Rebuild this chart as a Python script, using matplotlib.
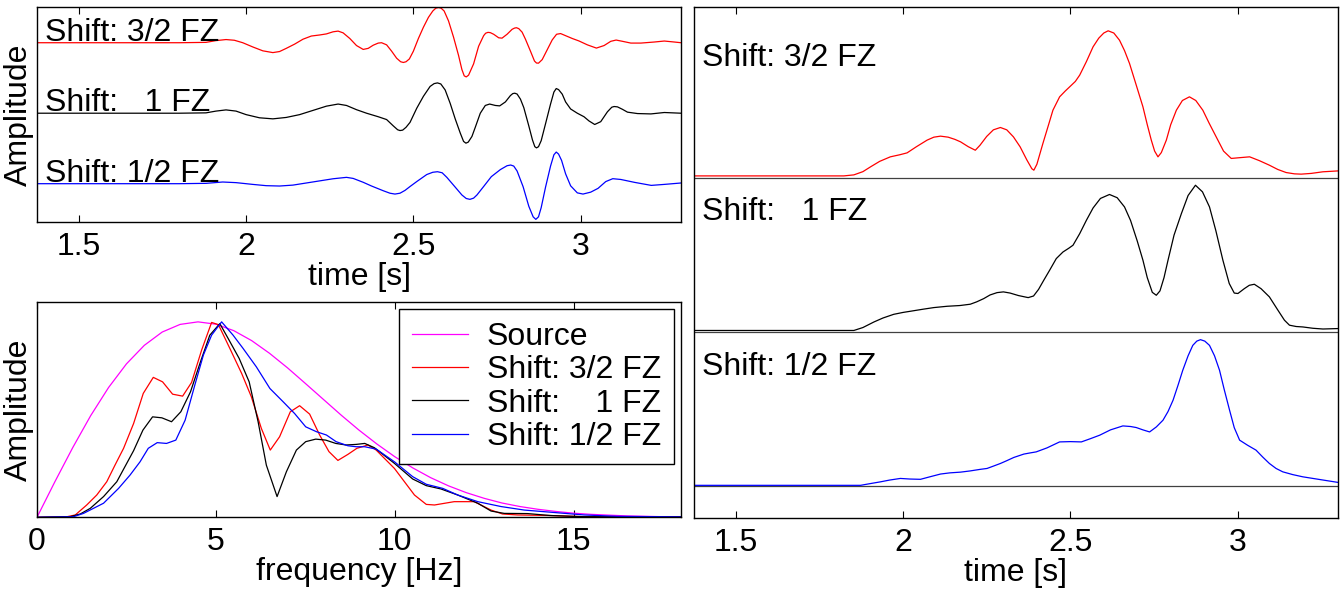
import matplotlib.pyplot as plt

plt.rcParams['font.family'] = ['Liberation Sans', 'DejaVu Sans']
plt.rcParams['font.size'] = 23

# Seismograms (offset traces), amplitude in units of trace spacing
t_red = [1.375, 1.60, 1.80, 1.88, 1.91, 1.94, 1.965, 1.99, 2.02, 2.05, 2.08, 2.10, 2.12, 2.145, 2.17, 2.195,
         2.22, 2.24, 2.26, 2.275, 2.29, 2.31, 2.33, 2.35, 2.365, 2.38, 2.395, 2.405, 2.42, 2.435, 2.45, 2.462,
         2.47, 2.478, 2.488, 2.50, 2.515, 2.53, 2.545, 2.558, 2.567, 2.575, 2.583, 2.592, 2.605, 2.62, 2.635,
         2.645, 2.652, 2.658, 2.665, 2.68, 2.695, 2.71, 2.716, 2.723, 2.73, 2.74, 2.755, 2.765, 2.78, 2.795,
         2.802, 2.808, 2.815, 2.825, 2.835, 2.85, 2.862, 2.868, 2.874, 2.885, 2.90, 2.915, 2.928, 2.94, 2.955,
         2.975, 2.995, 3.02, 3.047, 3.07, 3.09, 3.106, 3.125, 3.15, 3.18, 3.22, 3.25, 3.28, 3.30]
a_red = [0, 0, 0, 0.005, 0.03, 0.045, 0.035, 0.0, -0.06, -0.115, -0.14, -0.125, -0.08, -0.02, 0.05, 0.095,
         0.11, 0.125, 0.155, 0.165, 0.14, 0.06, -0.04, -0.095, -0.08, -0.035, -0.005, 0.0, -0.03, -0.12, -0.22,
         -0.27, -0.28, -0.27, -0.23, -0.12, 0.06, 0.22, 0.36, 0.45, 0.49, 0.50, 0.49, 0.45, 0.31, 0.08, -0.18,
         -0.38, -0.47, -0.485, -0.46, -0.30, -0.05, 0.10, 0.135, 0.147, 0.143, 0.12, 0.07, 0.065, 0.12, 0.19,
         0.207, 0.213, 0.20, 0.15, 0.05, -0.12, -0.26, -0.288, -0.29, -0.24, -0.10, 0.04, 0.12, 0.13, 0.10,
         0.06, 0.025, -0.03, -0.076, -0.04, 0.02, 0.038, 0.02, -0.005, -0.005, 0.01, 0.024, 0.01, 0.0]

t_black = [1.375, 1.60, 1.80, 1.88, 1.91, 1.94, 1.97, 2.00, 2.04, 2.08, 2.12, 2.16, 2.20, 2.24, 2.275, 2.30,
           2.33, 2.36, 2.395, 2.42, 2.44, 2.453, 2.46, 2.468, 2.478, 2.49, 2.51, 2.53, 2.55, 2.562, 2.572, 2.582,
           2.595, 2.61, 2.625, 2.64, 2.65, 2.657, 2.664, 2.675, 2.685, 2.70, 2.715, 2.728, 2.745, 2.758, 2.775,
           2.79, 2.797, 2.803, 2.81, 2.82, 2.83, 2.845, 2.856, 2.863, 2.868, 2.874, 2.882, 2.895, 2.91, 2.92,
           2.927, 2.934, 2.945, 2.955, 2.97, 2.99, 3.01, 3.025, 3.042, 3.06, 3.08, 3.093, 3.10, 3.11, 3.125,
           3.14, 3.17, 3.21, 3.25, 3.30]
a_black = [0, 0, 0, 0.005, 0.03, 0.047, 0.03, -0.02, -0.065, -0.08, -0.06, -0.02, 0.04, 0.10, 0.13, 0.11,
           0.05, 0.0, -0.05, -0.09, -0.18, -0.235, -0.246, -0.24, -0.20, -0.13, 0.07, 0.24, 0.38, 0.42, 0.43,
           0.415, 0.33, 0.14, -0.08, -0.28, -0.40, -0.425, -0.41, -0.33, -0.20, 0.0, 0.11, 0.13, 0.11, 0.104,
           0.16, 0.25, 0.278, 0.284, 0.272, 0.20, 0.08, -0.18, -0.38, -0.475, -0.492, -0.475, -0.39, -0.15,
           0.13, 0.30, 0.35, 0.335, 0.27, 0.16, 0.06, 0.0, -0.05, -0.11, -0.16, -0.12, 0.02, 0.085, 0.095,
           0.09, 0.055, 0.015, -0.005, -0.01, 0.01, 0.0]

t_blue = [1.375, 1.60, 1.80, 1.88, 1.93, 1.97, 2.02, 2.06, 2.10, 2.14, 2.18, 2.22, 2.26, 2.30, 2.32, 2.35,
          2.375, 2.41, 2.43, 2.445, 2.46, 2.475, 2.49, 2.51, 2.54, 2.558, 2.572, 2.586, 2.60, 2.624, 2.645,
          2.658, 2.669, 2.68, 2.69, 2.71, 2.733, 2.76, 2.78, 2.791, 2.80, 2.81, 2.828, 2.845, 2.858, 2.866,
          2.874, 2.882, 2.895, 2.91, 2.92, 2.927, 2.934, 2.943, 2.955, 2.97, 2.99, 3.007, 3.03, 3.052, 3.075,
          3.096, 3.12, 3.161, 3.211, 3.25, 3.30]
a_blue = [0, 0, 0, 0.005, 0.024, 0.015, -0.01, -0.028, -0.033, -0.02, 0.01, 0.04, 0.07, 0.09, 0.075, 0.02,
          -0.033, -0.10, -0.135, -0.147, -0.135, -0.095, -0.04, 0.03, 0.13, 0.162, 0.17, 0.155, 0.09, -0.043,
          -0.16, -0.21, -0.222, -0.205, -0.16, -0.04, 0.10, 0.20, 0.255, 0.265, 0.25, 0.18, -0.043, -0.32,
          -0.47, -0.506, -0.47, -0.34, -0.05, 0.25, 0.41, 0.449, 0.42, 0.33, 0.14, -0.03, -0.13, -0.147, -0.12,
          -0.066, 0.03, 0.071, 0.06, 0.019, -0.024, -0.01, 0.01]

# Envelopes, normalised to peak 1
te_red = [1.375, 1.823, 1.853, 1.88, 1.903, 1.93, 1.962, 1.99, 2.012, 2.04, 2.072, 2.092, 2.112, 2.135, 2.155,
          2.172, 2.195, 2.216, 2.23, 2.25, 2.27, 2.291, 2.31, 2.33, 2.35, 2.37, 2.385, 2.391, 2.40, 2.418,
          2.435, 2.448, 2.468, 2.485, 2.498, 2.515, 2.528, 2.548, 2.568, 2.585, 2.60, 2.613, 2.63, 2.647, 2.662,
          2.677, 2.697, 2.717, 2.73, 2.742, 2.752, 2.762, 2.772, 2.787, 2.80, 2.817, 2.835, 2.856, 2.875,
          2.896, 2.915, 2.936, 2.958, 2.981, 3.005, 3.036, 3.065, 3.095, 3.12, 3.145, 3.17, 3.19, 3.22, 3.255,
          3.30]
e_red = [0.011, 0.011, 0.018, 0.04, 0.073, 0.11, 0.141, 0.155, 0.168, 0.21, 0.255, 0.275, 0.282, 0.275, 0.26,
         0.243, 0.21, 0.186, 0.22, 0.28, 0.325, 0.341, 0.325, 0.277, 0.209, 0.12, 0.06, 0.05, 0.09, 0.232,
         0.36, 0.459, 0.55, 0.59, 0.618, 0.655, 0.698, 0.79, 0.891, 0.95, 0.985, 1.0, 0.985, 0.936, 0.865,
         0.777, 0.63, 0.482, 0.36, 0.255, 0.18, 0.141, 0.17, 0.255, 0.36, 0.459, 0.525, 0.55, 0.525, 0.459,
         0.37, 0.277, 0.18, 0.13, 0.135, 0.141, 0.115, 0.084, 0.055, 0.034, 0.025, 0.023, 0.028, 0.039, 0.045]

te_black = [1.375, 1.853, 1.88, 1.913, 1.94, 1.972, 2.00, 2.022, 2.06, 2.092, 2.132, 2.17, 2.201, 2.22, 2.241,
            2.26, 2.281, 2.30, 2.32, 2.345, 2.374, 2.39, 2.405, 2.42, 2.438, 2.458, 2.478, 2.495, 2.508, 2.528,
            2.548, 2.568, 2.59, 2.617, 2.64, 2.662, 2.68, 2.70, 2.717, 2.73, 2.745, 2.757, 2.768, 2.78, 2.792,
            2.81, 2.832, 2.852, 2.874, 2.895, 2.916, 2.935, 2.956, 2.975, 2.99, 3.001, 3.02, 3.035, 3.05, 3.07,
            3.095, 3.12, 3.14, 3.155, 3.175, 3.195, 3.225, 3.255, 3.30]
e_black = [0.01, 0.01, 0.03, 0.068, 0.095, 0.12, 0.133, 0.141, 0.155, 0.166, 0.175, 0.18, 0.189, 0.205,
           0.227, 0.252, 0.268, 0.273, 0.265, 0.248, 0.234, 0.245, 0.29, 0.35, 0.42, 0.50, 0.545, 0.57, 0.591,
           0.67, 0.761, 0.845, 0.91, 0.937, 0.915, 0.852, 0.76, 0.62, 0.489, 0.37, 0.27, 0.25, 0.28, 0.37,
           0.489, 0.66, 0.807, 0.93, 1.0, 0.955, 0.852, 0.69, 0.489, 0.33, 0.265, 0.262, 0.295, 0.318, 0.325,
           0.295, 0.239, 0.15, 0.08, 0.046, 0.037, 0.034, 0.025, 0.02, 0.023]

te_blue = [1.375, 1.873, 1.90, 1.933, 1.96, 1.992, 2.02, 2.052, 2.08, 2.112, 2.14, 2.172, 2.20, 2.231, 2.251,
           2.27, 2.291, 2.31, 2.331, 2.361, 2.38, 2.398, 2.43, 2.468, 2.50, 2.533, 2.56, 2.588, 2.62, 2.657,
           2.68, 2.697, 2.717, 2.737, 2.757, 2.777, 2.792, 2.807, 2.822, 2.836, 2.852, 2.866, 2.878, 2.889,
           2.902, 2.916, 2.931, 2.946, 2.96, 2.976, 2.99, 3.006, 3.03, 3.055, 3.075, 3.095, 3.115, 3.135, 3.165,
           3.195, 3.25, 3.30]
e_blue = [0.007, 0.007, 0.018, 0.031, 0.043, 0.054, 0.05, 0.048, 0.065, 0.084, 0.092, 0.097, 0.105, 0.116,
          0.122, 0.138, 0.156, 0.175, 0.197, 0.22, 0.228, 0.235, 0.262, 0.303, 0.305, 0.303, 0.325, 0.349,
          0.385, 0.412, 0.408, 0.401, 0.385, 0.371, 0.405, 0.451, 0.51, 0.587, 0.69, 0.791, 0.89, 0.961, 0.99,
          1.0, 0.99, 0.961, 0.89, 0.791, 0.66, 0.519, 0.40, 0.315, 0.28, 0.247, 0.20, 0.156, 0.122, 0.099,
          0.08, 0.065, 0.045, 0.027]

# Amplitude spectra
f_src = [0, 0.5, 1, 1.5, 2, 2.5, 3, 3.5, 4, 4.5, 5, 5.5, 6, 6.5, 7, 7.5, 8, 8.5, 9, 9.5, 10, 10.5, 11, 11.5,
         12, 12.5, 13, 13.5, 14, 14.5, 15, 15.5, 16, 16.5, 17, 17.5, 18]
s_src = [0, 0.182, 0.357, 0.520, 0.664, 0.785, 0.880, 0.948, 0.987, 1.0, 0.988, 0.955, 0.904, 0.839, 0.765,
         0.685, 0.604, 0.523, 0.446, 0.375, 0.310, 0.253, 0.203, 0.161, 0.126, 0.097, 0.073, 0.055, 0.041,
         0.030, 0.021, 0.015, 0.011, 0.007, 0.005, 0.003, 0.002]

f_red = [0, 0.84, 1.07, 1.39, 1.67, 1.95, 2.18, 2.42, 2.70, 2.97, 3.25, 3.51, 3.79, 4.07, 4.32, 4.60, 4.88,
         5.07, 5.39, 5.72, 5.99, 6.27, 6.52, 6.78, 7.08, 7.34, 7.62, 7.90, 8.16, 8.41, 8.69, 8.94, 9.25, 9.48,
         9.99, 10.55, 10.88, 11.11, 11.66, 12.22, 12.69, 13.01, 13.43, 14.36, 15.29, 18.0]
s_red = [0, 0.003, 0.012, 0.063, 0.114, 0.182, 0.267, 0.353, 0.48, 0.634, 0.716, 0.693, 0.63, 0.62, 0.69,
         0.855, 0.997, 0.986, 0.864, 0.736, 0.617, 0.455, 0.344, 0.412, 0.54, 0.571, 0.528, 0.421, 0.336,
         0.291, 0.322, 0.353, 0.37, 0.344, 0.25, 0.114, 0.066, 0.063, 0.08, 0.08, 0.037, 0.017, 0.012, 0.009,
         0.003, 0.002]

f_black = [0, 0.93, 1.21, 1.49, 1.86, 2.23, 2.70, 2.96, 3.23, 3.49, 3.76, 4.02, 4.29, 4.57, 4.83, 5.11, 5.37,
           5.65, 5.93, 6.18, 6.41, 6.71, 6.97, 7.25, 7.51, 7.79, 8.07, 8.35, 8.64, 8.92, 9.16, 9.43, 9.99,
           10.50, 10.88, 11.29, 11.76, 12.32, 12.69, 13.06, 13.71, 14.36, 15.29, 18.0]
s_black = [0, 0.003, 0.017, 0.046, 0.106, 0.182, 0.341, 0.446, 0.514, 0.509, 0.489, 0.54, 0.642, 0.796,
           0.932, 0.991, 0.906, 0.813, 0.693, 0.489, 0.267, 0.106, 0.233, 0.344, 0.387, 0.40, 0.395, 0.378,
           0.37, 0.373, 0.378, 0.356, 0.276, 0.196, 0.162, 0.145, 0.114, 0.072, 0.032, 0.02, 0.019, 0.009,
           0.003, 0.002]

f_blue = [0, 1.02, 1.30, 1.86, 2.28, 2.60, 2.88, 3.11, 3.36, 3.62, 3.88, 4.14, 4.41, 4.65, 4.88, 5.16, 5.48,
          5.76, 6.13, 6.51, 6.88, 7.20, 7.51, 7.81, 8.09, 8.36, 8.69, 8.92, 9.16, 9.48, 9.99, 10.50, 10.88,
          11.34, 11.76, 12.32, 12.97, 13.62, 14.36, 15.29, 16.22, 18.0]
s_blue = [0, 0.003, 0.02, 0.072, 0.148, 0.216, 0.284, 0.353, 0.382, 0.378, 0.395, 0.497, 0.676, 0.83, 0.932,
          1.0, 0.932, 0.864, 0.77, 0.659, 0.591, 0.531, 0.463, 0.438, 0.421, 0.387, 0.366, 0.361, 0.361, 0.349,
          0.284, 0.208, 0.169, 0.148, 0.114, 0.08, 0.055, 0.037, 0.026, 0.012, 0.005, 0.002]

labels = ['Shift: 1/2 FZ', 'Shift:   1 FZ', 'Shift: 3/2 FZ']
colors = ['blue', 'black', 'red']
time_ticks = [1.5, 2, 2.5, 3]
time_tick_labels = ['1.5', '2', '2.5', '3']
freq_ticks = [0, 5, 10, 15]

fig = plt.figure(figsize=(13.42, 5.97), dpi=100)
ax_seis = fig.add_axes([0.02757, 0.6276, 0.4799, 0.3601])
ax_spec = fig.add_axes([0.02757, 0.1335, 0.4799, 0.3601])
ax_env = fig.add_axes([0.5171, 0.1323, 0.4799, 0.8554])


def style_axis(ax, ticks, tick_labels):
    ax.set_xticks(ticks)
    ax.set_xticklabels(tick_labels)
    ax.set_yticks([])
    ax.tick_params(axis='x', direction='in', top=True, length=5, width=0.8, pad=7)
    for s in ax.spines.values():
        s.set_linewidth(1.0)


# Seismograms
traces = [(t_blue, a_blue), (t_black, a_black), (t_red, a_red)]
for i, (t, a) in enumerate(traces):
    ax_seis.plot(t, [v + i for v in a], color=colors[i], lw=0.9)
    ax_seis.text(1.40, i + 0.03, labels[i], ha='left', va='baseline')
ax_seis.set_xlim(1.375, 3.3)
ax_seis.set_ylim(-0.548, 2.502)
style_axis(ax_seis, time_ticks, time_tick_labels)
ax_seis.set_xlabel('time [s]', labelpad=0)
ax_seis.set_ylabel('Amplitude', labelpad=2)

# Spectra
ax_spec.plot(f_src, s_src, color='magenta', lw=0.9, label='Source')
ax_spec.plot(f_red, s_red, color='red', lw=0.9, label='Shift: 3/2 FZ')
ax_spec.plot(f_black, s_black, color='black', lw=0.9, label='Shift:    1 FZ')
ax_spec.plot(f_blue, s_blue, color='blue', lw=0.9, label='Shift: 1/2 FZ')
ax_spec.set_xlim(0, 18)
ax_spec.set_ylim(0, 1.1)
style_axis(ax_spec, freq_ticks, [str(v) for v in freq_ticks])
ax_spec.set_xlabel('frequency [Hz]', labelpad=0)
ax_spec.set_ylabel('Amplitude', labelpad=2)
leg = ax_spec.legend(loc='upper right', fancybox=False, framealpha=1, edgecolor='black',
                     handlelength=1.75, handletextpad=0.6, borderpad=0.4, labelspacing=0.1,
                     borderaxespad=0.22)
leg.get_frame().set_linewidth(1.0)

# Envelopes
envelopes = [(te_blue, e_blue), (te_black, e_black), (te_red, e_red)]
for i, (t, e) in enumerate(envelopes):
    ax_env.axhline(i, color='0.25', lw=0.9)
    ax_env.plot(t, [i + 0.95 * v for v in e], color=colors[i], lw=0.9)
    ax_env.text(1.40, i + 0.722, labels[i], ha='left', va='baseline')
ax_env.set_xlim(1.375, 3.3)
ax_env.set_ylim(-0.205, 3.102)
style_axis(ax_env, time_ticks, time_tick_labels)
ax_env.set_xlabel('time [s]', labelpad=0)

fig.savefig('out.png', dpi=100)
